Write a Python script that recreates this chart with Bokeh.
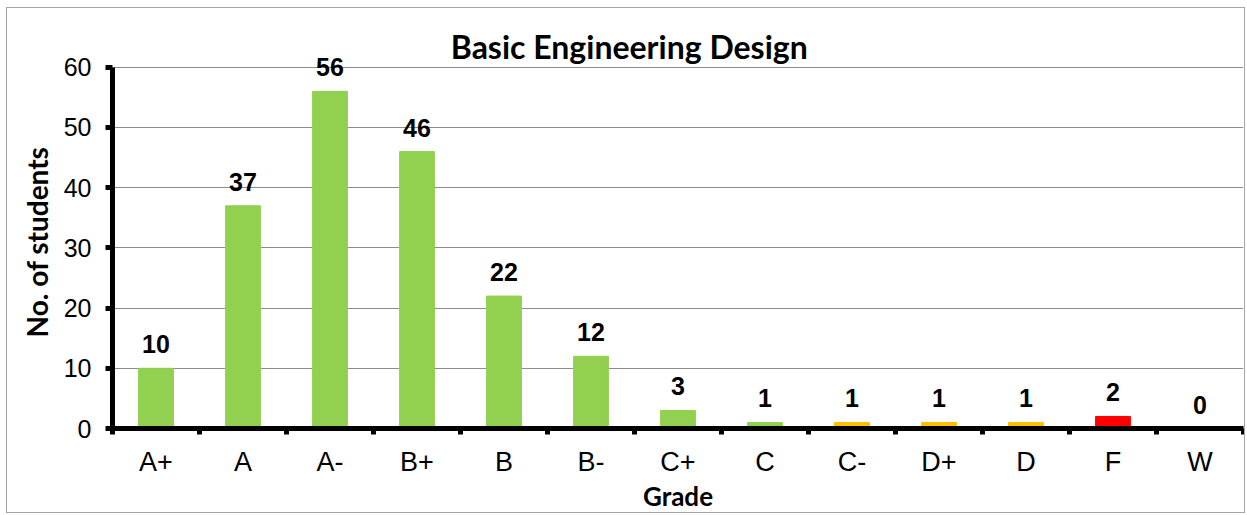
from bokeh.plotting import figure
from bokeh.models import Range1d, FixedTicker, ColumnDataSource, Label, Title
from bokeh.core.properties import value
from bokeh.embed import file_html
from bokeh.resources import INLINE

categories = ["A+", "A", "A-", "B+", "B", "B-", "C+", "C", "C-", "D+", "D", "F", "W"]
counts = [10, 37, 56, 46, 22, 12, 3, 1, 1, 1, 1, 2, 0]
bar_colors = ["#92D050"] * 8 + ["#FFC000"] * 3 + ["#FF0000", "#92D050"]
y_ticks = [0, 10, 20, 30, 40, 50, 60]
title_text = "Basic Engineering Design"
x_title = "Grade"
y_title = "No. of students"

xs = list(range(len(categories)))
src = ColumnDataSource(dict(x=xs, top=counts, color=bar_colors, label=[str(c) for c in counts]))

# frame extends above the axis end (60) so that labels/title are not clipped
Y_AXIS_MAX = 60
Y_VIEW_MAX = 68.1

p = figure(width=1239, height=506, output_backend="svg", toolbar_location=None,
           title_location=None,
           x_range=Range1d(-0.5, len(categories) - 0.5), y_range=Range1d(0, Y_VIEW_MAX),
           min_border_left=105, min_border_right=3, min_border_top=10, min_border_bottom=84)
p.styles = {"border": "1px solid #A6A6A6", "margin-left": "6px", "margin-top": "7px"}
p.outline_line_color = None

p.add_layout(Label(x=(len(categories) - 1) / 2 - 0.56, y=Y_AXIS_MAX + 3.5, text=title_text,
                   text_align="center", text_baseline="alphabetic", text_font="Lato",
                   text_font_style="bold", text_font_size="32px", text_color="black"))

p.vbar(x="x", top="top", width=0.4, color="color", source=src)
p.text(x="x", y="top", text="label", source=src, text_align="center", text_baseline="bottom",
       y_offset=-15, text_font=value("Liberation Sans"), text_font_style="bold",
       text_font_size="25px", text_color="black")

# axes
p.xaxis.ticker = FixedTicker(ticks=xs, minor_ticks=[x - 0.5 for x in xs] + [len(xs) - 0.5])
p.xaxis.major_label_overrides = {x: c for x, c in zip(xs, categories)}
p.yaxis.ticker = FixedTicker(ticks=y_ticks, minor_ticks=[])
p.yaxis.bounds = (0, Y_AXIS_MAX)
for ax in (p.xaxis, p.yaxis):
    ax.axis_line_width = 5
    ax.axis_line_color = "black"
    ax.major_label_text_font = "Liberation Sans"
    ax.major_label_text_color = "black"
    ax.axis_label_text_font = "Lato"
    ax.axis_label_text_font_style = "bold"
    ax.axis_label_text_color = "black"

p.xaxis.major_tick_out = 0
p.xaxis.major_tick_in = 0
p.xaxis.minor_tick_out = 6
p.xaxis.minor_tick_in = 0
p.xaxis.minor_tick_line_width = 5
p.xaxis.minor_tick_line_color = "black"
p.xaxis.major_label_text_font_size = "27px"
p.xaxis.major_label_standoff = 12
p.xaxis.axis_label = x_title
p.xaxis.axis_label_text_font_size = "26px"
p.xaxis.axis_label_standoff = 0

p.yaxis.major_tick_out = 7
p.yaxis.major_tick_in = 0
p.yaxis.major_tick_line_width = 5
p.yaxis.major_tick_line_color = "black"
p.yaxis.minor_tick_line_color = None
p.yaxis.major_label_text_font_size = "25px"
p.yaxis.major_label_standoff = 14

# y axis title centred on the 0-60 span (not on the taller frame)
p.add_layout(Title(text=y_title, align="left", offset=91, standoff=14, text_font="Lato",
                   text_font_style="bold", text_font_size="28px", text_color="black"), "left")

p.xgrid.grid_line_color = None
p.ygrid.ticker = FixedTicker(ticks=y_ticks)
p.ygrid.grid_line_color = "#8C8C8C"
p.ygrid.grid_line_width = 1

open("out.html", "w").write(file_html(p, INLINE))
